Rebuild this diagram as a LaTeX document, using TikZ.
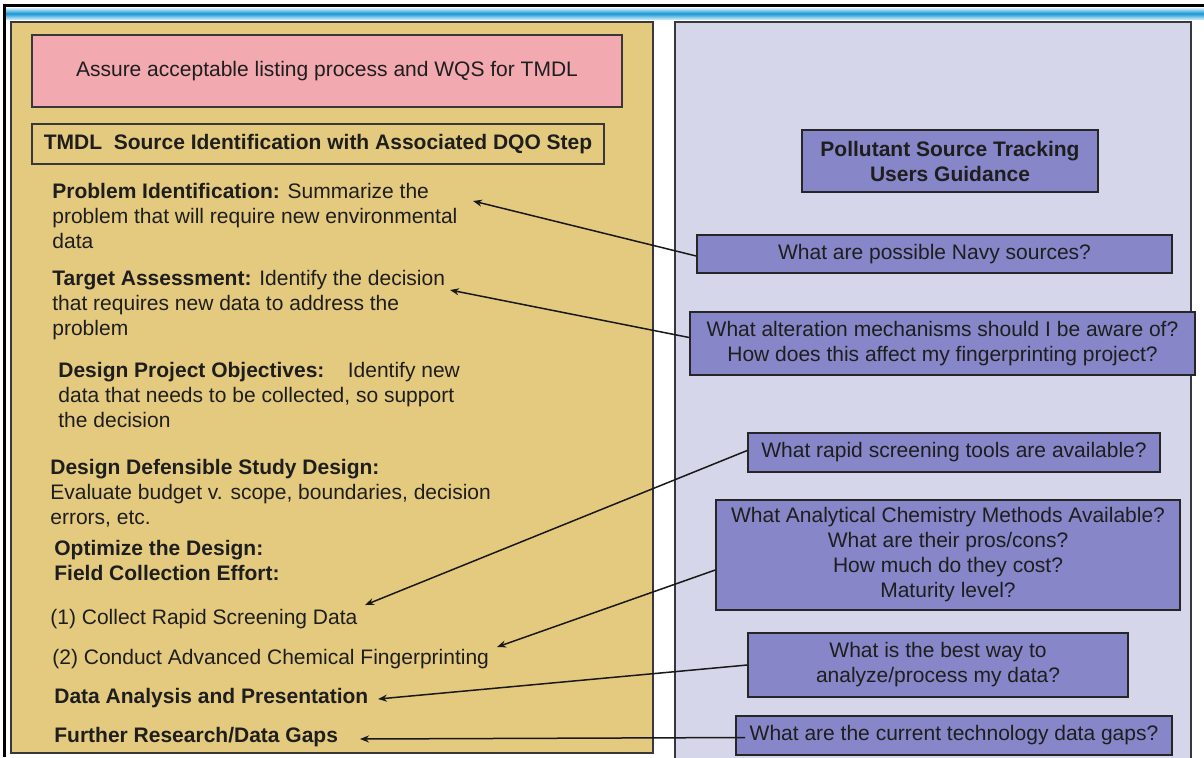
\documentclass[tikz,border=0pt]{standalone}
\usepackage{fontspec}
\setmainfont{Liberation Sans}
\usetikzlibrary{arrows.meta}

\definecolor{panelTan}{RGB}{228,202,126}
\definecolor{panelLav}{RGB}{213,214,233}
\definecolor{headPink}{RGB}{242,169,176}
\definecolor{qBlue}{RGB}{134,134,200}
\definecolor{edgeGray}{RGB}{55,55,60}
\definecolor{inkDark}{RGB}{30,30,30}
\definecolor{barTop}{RGB}{205,238,250}
\definecolor{barMid}{RGB}{25,150,212}
\definecolor{barBot}{RGB}{190,230,247}

\tikzset{
  txt/.style={font=\fontsize{10.5pt}{12.5pt}\selectfont, text=inkDark, inner sep=0pt, align=left, anchor=base west},
  panel/.style={draw=edgeGray, line width=1pt},
  qbox/.style={draw=black!85, line width=0.8pt, fill=qBlue, align=center, inner sep=0pt,
               font=\fontsize{10.5pt}{12.5pt}\selectfont, text=inkDark},
  link/.style={draw=black!90, line width=0.75pt, -{Stealth[length=4.5pt,width=3.5pt]}},
}

\begin{document}
\begin{tikzpicture}[x=0.5pt,y=-0.5pt]
\useasboundingbox (0,0) rectangle (1204,757);
\fill[white] (0,0) rectangle (1204,757);

% outer frame and title bar
\shade[top color=barTop, bottom color=barBot, middle color=barMid] (5,8) rectangle (1204,19);
\draw[line width=1.5pt, black] (4,757) -- (4,5) -- (1204,5);

% two panels
\draw[panel, fill=panelTan] (11,22) rectangle (653,753);
\draw[panel, fill=panelLav] (675,22) rectangle (1191,780);

% left panel headers
\node[draw=edgeGray, line width=1pt, fill=headPink, minimum width=295pt, minimum height=36pt,
      font=\fontsize{10.5pt}{12.5pt}\selectfont, text=inkDark] (assure) at (327,71)
      {Assure acceptable listing process and WQS for TMDL};
\node[draw=edgeGray, line width=0.8pt, minimum width=286pt, minimum height=20pt,
      font=\fontsize{10.5pt}{12.5pt}\selectfont\bfseries, text=inkDark] (tmdl) at (318,144)
      {TMDL\ \ Source Identification with Associated DQO Step};

% DQO steps (positions give the baseline of each block's last line)
\node[txt] (probid) at (52,248) {\textbf{Problem Identification:} Summarize the\\problem that will require new environmental\\data};
\node[txt] (target) at (52,335) {\textbf{Target Assessment:} Identify the decision\\that requires new data to address the\\problem};
\node[txt] (objectives) at (58,427) {\textbf{Design Project Objectives:}\ \ \ \ Identify new\\data that needs to be collected, so support\\the decision};
\node[txt] (defensible) at (50,524) {\textbf{Design Defensible Study Design:}\\Evaluate budget v. scope, boundaries, decision\\errors, etc.};
\node[txt] (optimize) at (54,580) {\textbf{Optimize the Design:}\\\textbf{Field Collection Effort:}};
\node[txt] (rapid) at (50,624) {(1) Collect Rapid Screening Data};
\node[txt] (advanced) at (52,664) {(2) Conduct Advanced Chemical Fingerprinting};
\node[txt, font=\fontsize{10.5pt}{12.5pt}\selectfont\bfseries] (analysis) at (54,703) {Data Analysis and Presentation};
\node[txt, font=\fontsize{10.5pt}{12.5pt}\selectfont\bfseries] (gaps) at (54,742) {Further Research/Data Gaps};

% guidance questions
\node[qbox, font=\fontsize{10.5pt}{12.5pt}\selectfont\bfseries, minimum width=148pt, minimum height=31pt] (pst) at (950,161)
      {Pollutant Source Tracking\\Users Guidance};
\node[qbox, minimum width=237.5pt, minimum height=19pt] (qnavy) at (934.5,254) {What are possible Navy sources?};
\node[qbox, minimum width=252.5pt, minimum height=31.5pt] (qalter) at (942.5,343.5)
      {What alteration mechanisms should I be aware of?\\How does this affect my fingerprinting project?};
\node[qbox, minimum width=206pt, minimum height=19.5pt] (qrapid) at (954,452.5) {What rapid screening tools are available?};
\node[qbox, minimum width=232pt, minimum height=55pt] (qchem) at (948,555)
      {What Analytical Chemistry Methods Available?\\What are their pros/cons?\\How much do they cost?\\Maturity level?};
\node[qbox, minimum width=190pt, minimum height=32pt] (qbest) at (938,665)
      {What is the best way to\\analyze/process my data?};
\node[qbox, minimum width=218pt, minimum height=19.5pt] (qgaps) at (954,735.5) {What are the current technology data gaps?};

% arrow targets at the ends of the step texts
\coordinate (tProb) at (473,201);
\coordinate (tTarget) at (450,290);
\coordinate (tRapid) at (365,605);
\coordinate (tAdv) at (497,647);
\coordinate (tAnal) at (378,699);
\coordinate (tGaps) at (360,739);

\draw[link] ([yshift=-1pt]qnavy.west) -- (tProb);
\draw[link] ([yshift=3pt]qalter.west) -- (tTarget);
\draw[link] ([yshift=1pt]qrapid.west) -- (tRapid);
\draw[link] ([yshift=-7.5pt]qchem.west) -- (tAdv);
\draw[link] (qbest.west) -- (tAnal);
\draw[link] ([xshift=5pt,yshift=-1pt]qgaps.west) -- (tGaps);
\end{tikzpicture}
\end{document}
